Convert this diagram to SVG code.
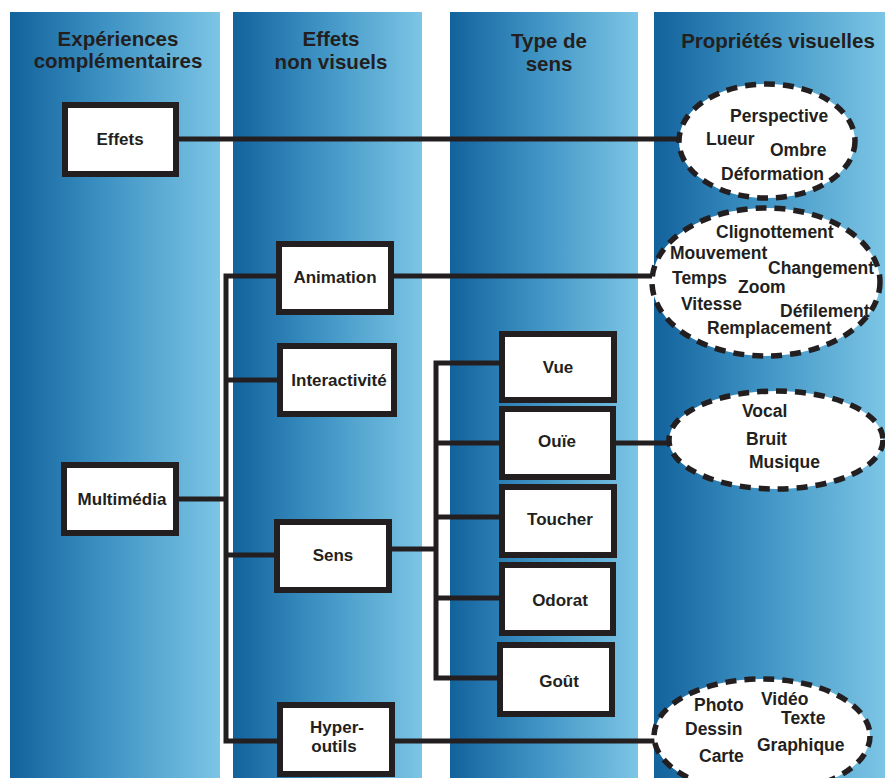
<svg xmlns="http://www.w3.org/2000/svg" width="885" height="778" viewBox="0 0 885 778">
<defs>
<linearGradient id="colg" x1="0" y1="0" x2="1" y2="0">
<stop offset="0" stop-color="#12629c"/>
<stop offset="0.45" stop-color="#3d92c3"/>
<stop offset="1" stop-color="#7cc5e5"/>
</linearGradient>
<style>
.col{fill:url(#colg);}
.hdr{font-family:"Liberation Sans",Arial,sans-serif;font-weight:bold;font-size:20.5px;fill:#231f20;text-anchor:middle;}
.box{fill:#fff;stroke:#231f20;stroke-width:6;}
.bt{font-family:"Liberation Sans",Arial,sans-serif;font-weight:bold;font-size:17px;fill:#231f20;text-anchor:middle;}
.et{font-family:"Liberation Sans",Arial,sans-serif;font-weight:bold;font-size:17.5px;fill:#231f20;}
.ell{fill:#fff;stroke:#231f20;stroke-width:5.5;stroke-dasharray:11 8;}
.ln{fill:none;stroke:#231f20;stroke-width:5;}
</style>
</defs>
<rect width="885" height="778" fill="#fff"/>
<g id="columns">
<rect class="col" x="10" y="12" width="210" height="766"/>
<rect class="col" x="233" y="12" width="189" height="766"/>
<rect class="col" x="450" y="12" width="188" height="766"/>
<rect class="col" x="654" y="12" width="231" height="766"/>
</g>
<g id="headers">
<text class="hdr" x="118" y="46">Expériences</text>
<text class="hdr" x="118" y="68">complémentaires</text>
<text class="hdr" x="331" y="46">Effets</text>
<text class="hdr" x="331" y="69">non visuels</text>
<text class="hdr" x="549" y="48">Type de</text>
<text class="hdr" x="549" y="71">sens</text>
<text class="hdr" x="778" y="48">Propriétés visuelles</text>
</g>
<g id="connectors">
<line class="ln" x1="179" y1="139" x2="678" y2="139"/>
<line class="ln" x1="394" y1="276" x2="652" y2="276"/>
<line class="ln" x1="616" y1="443" x2="669" y2="443"/>
<line class="ln" x1="395" y1="741" x2="655" y2="741"/>
<polyline class="ln" points="179,499 226,499"/>
<polyline class="ln" points="276,276 226,276 226,741 277,741"/>
<line class="ln" x1="226" y1="380" x2="277" y2="380"/>
<line class="ln" x1="226" y1="555" x2="274" y2="555"/>
<line class="ln" x1="392" y1="549" x2="436" y2="549"/>
<polyline class="ln" points="499,363 436,363 436,678 497,678"/>
<line class="ln" x1="436" y1="443" x2="499" y2="443"/>
<line class="ln" x1="436" y1="517" x2="499" y2="517"/>
<line class="ln" x1="436" y1="598" x2="499" y2="598"/>
</g>
<g id="node-effets"><rect class="box" x="65" y="105" width="111" height="69"/><text class="bt" x="120" y="145">Effets</text></g>
<g id="node-multimedia"><rect class="box" x="64" y="465" width="112" height="68"/><text class="bt" x="122" y="505">Multimédia</text></g>
<g id="node-animation"><rect class="box" x="279" y="244" width="112" height="68"/><text class="bt" x="335" y="283">Animation</text></g>
<g id="node-interactivite"><rect class="box" x="280" y="346" width="114" height="68"/><text class="bt" x="339" y="386">Interactivité</text></g>
<g id="node-sens"><rect class="box" x="277" y="522" width="112" height="68"/><text class="bt" x="333" y="561">Sens</text></g>
<g id="node-hyper"><rect class="box" x="280" y="705" width="112" height="69"/><text class="bt" x="337" y="733">Hyper-</text><text class="bt" x="334" y="752">outils</text></g>
<g id="node-vue"><rect class="box" x="502" y="334" width="112" height="66"/><text class="bt" x="558" y="373">Vue</text></g>
<g id="node-ouie"><rect class="box" x="502" y="409" width="111" height="68"/><text class="bt" x="557" y="447">Ouïe</text></g>
<g id="node-toucher"><rect class="box" x="502" y="487" width="112" height="68"/><text class="bt" x="560" y="525">Toucher</text></g>
<g id="node-odorat"><rect class="box" x="502" y="565" width="111" height="68"/><text class="bt" x="560" y="606">Odorat</text></g>
<g id="node-gout"><rect class="box" x="500" y="645" width="112" height="69"/><text class="bt" x="559" y="687">Goût</text></g>
<g id="ellipse-effets">
<ellipse class="ell" cx="767" cy="141" rx="88" ry="57"/>
<text class="et" x="730" y="122">Perspective</text>
<text class="et" x="706" y="145">Lueur</text>
<text class="et" x="770" y="156">Ombre</text>
<text class="et" x="721" y="180">Déformation</text>
</g>
<g id="ellipse-animation">
<ellipse class="ell" cx="766" cy="282" rx="114" ry="74"/>
<text class="et" x="716" y="238">Clignottement</text>
<text class="et" x="670" y="259">Mouvement</text>
<text class="et" x="768" y="274">Changement</text>
<text class="et" x="672" y="284">Temps</text>
<text class="et" x="738" y="293">Zoom</text>
<text class="et" x="681" y="310">Vitesse</text>
<text class="et" x="780" y="317">Défilement</text>
<text class="et" x="707" y="334">Remplacement</text>
</g>
<g id="ellipse-ouie">
<ellipse class="ell" cx="776" cy="440" rx="107" ry="49"/>
<text class="et" x="742" y="417">Vocal</text>
<text class="et" x="746" y="445">Bruit</text>
<text class="et" x="749" y="468">Musique</text>
</g>
<g id="ellipse-hyper">
<ellipse class="ell" cx="762" cy="736" rx="108" ry="57"/>
<text class="et" x="694" y="711">Photo</text>
<text class="et" x="761" y="705">Vidéo</text>
<text class="et" x="781" y="724">Texte</text>
<text class="et" x="685" y="735">Dessin</text>
<text class="et" x="757" y="751">Graphique</text>
<text class="et" x="699" y="762">Carte</text>
</g>
</svg>
